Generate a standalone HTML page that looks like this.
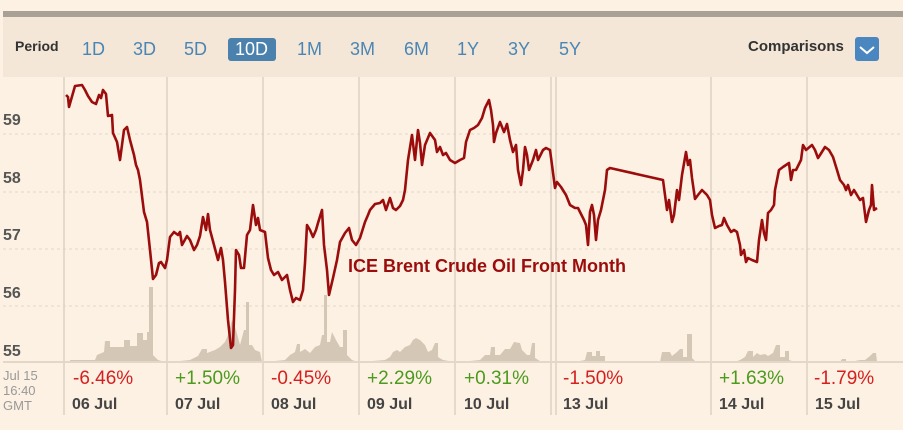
<!DOCTYPE html>
<html><head><meta charset="utf-8"><style>
body{margin:0;width:903px;height:430px;background:#fdf1e3;overflow:hidden;font-family:"Liberation Sans",sans-serif;position:relative}
.t{position:absolute;white-space:nowrap}
.p{font-size:19px;top:368px}
.d{font-size:16px;font-weight:bold;color:#444;top:396px}
.y{font-size:16px;font-weight:bold;color:#555;left:3px}
</style></head><body>
<div style="position:absolute;left:3px;top:11px;width:900px;height:6px;background:#a9a196"></div>
<div style="position:absolute;left:3px;top:17px;width:900px;height:60px;background:#f4e7d7"></div>
<div class="t" style="left:15px;top:38px;font-size:14px;font-weight:bold;color:#333">Period</div>
<div style="position:absolute;left:228px;top:38px;width:48px;height:23px;background:#4a81ad;border-radius:3px"></div>
<div class="t" style="left:82px;top:39px;font-size:18px;color:#4a86b5">1D</div>
<div class="t" style="left:133px;top:39px;font-size:18px;color:#4a86b5">3D</div>
<div class="t" style="left:184px;top:39px;font-size:18px;color:#4a86b5">5D</div>
<div class="t" style="left:235px;top:39px;font-size:18px;color:#fff">10D</div>
<div class="t" style="left:297px;top:39px;font-size:18px;color:#4a86b5">1M</div>
<div class="t" style="left:350px;top:39px;font-size:18px;color:#4a86b5">3M</div>
<div class="t" style="left:404px;top:39px;font-size:18px;color:#4a86b5">6M</div>
<div class="t" style="left:457px;top:39px;font-size:18px;color:#4a86b5">1Y</div>
<div class="t" style="left:508px;top:39px;font-size:18px;color:#4a86b5">3Y</div>
<div class="t" style="left:559px;top:39px;font-size:18px;color:#4a86b5">5Y</div>
<div class="t" style="left:748px;top:38px;font-size:15px;font-weight:bold;color:#333">Comparisons</div>
<div style="position:absolute;left:855px;top:37px;width:24px;height:24px;background:#4a86c0;border-radius:3px"></div>
<svg style="position:absolute;left:0;top:0" width="903" height="430">
<polyline points="860,47 867,53 874,47" fill="none" stroke="#fff" stroke-width="2"/>
<g stroke="#e2d6c8" stroke-dasharray="3,3" stroke-width="1">
<line x1="3" y1="134" x2="903" y2="134"/><line x1="3" y1="192" x2="903" y2="192"/><line x1="3" y1="249" x2="903" y2="249"/><line x1="3" y1="306" x2="903" y2="306"/>
</g>
<g stroke="#ddd1c3" stroke-width="1.5">
<line x1="64" y1="77" x2="64" y2="415"/><line x1="167" y1="77" x2="167" y2="415"/><line x1="263" y1="77" x2="263" y2="415"/><line x1="359" y1="77" x2="359" y2="415"/><line x1="455" y1="77" x2="455" y2="415"/><line x1="551" y1="77" x2="551" y2="415"/><line x1="556" y1="77" x2="556" y2="415"/><line x1="711" y1="77" x2="711" y2="415"/><line x1="807" y1="77" x2="807" y2="415"/>
</g>
<g fill="#d5c7b5">
<polygon points="70,362 70,360 95,360 97,355 104,352 105,341 110,341 110,347 124,347 124,340 130,340 130,346 137,346 137,333 143,333 143,340 147,340 147,332 149,332 149,287 153,287 153,355 158,360 165,362"/>
<polygon points="170,362 190,360 198,356 202,349 207,349 207,353 215,350 220,347 225,342 228,335 232,320 236,330 240,345 244,330 246,330 246,302 249,302 249,345 252,345 255,350 260,352 262,362"/>
<polygon points="265,362 285,360 290,355 295,352 297,344 300,344 300,352 305,349 310,353 315,347 320,345 322,335 324,335 324,295 327,295 327,342 330,342 332,332 336,340 340,347 343,347 343,330 347,330 347,355 352,360 358,362"/>
<polygon points="360,362 385,360 390,357 393,352 397,350 400,352 405,347 410,345 413,340 416,338 420,340 425,345 428,352 432,350 435,343 438,343 438,357 443,360 455,362"/>
<polygon points="460,362 480,360 485,355 490,355 491,347 495,347 495,355 500,355 505,349 510,349 514,342 520,343 522,350 527,355 530,355 532,343 535,343 535,358 540,361 551,362"/>
<polygon points="575,362 585,360 587,352 592,352 592,356 596,356 596,351 600,351 600,356 605,356 605,362"/>
<polygon points="660,362 662,352 670,352 672,356 677,352 680,349 683,349 683,357 687,357 687,334 692,334 692,358 695,361 705,362"/>
<polygon points="735,362 740,360 745,357 748,351 753,351 753,357 757,353 760,355 765,354 768,356 773,353 776,345 780,345 780,357 785,357 785,351 789,351 789,360 795,362"/>
<polygon points="840,362 842,359 846,359 846,361 855,361 860,360 865,360 870,356 873,353 876,353 877,362"/>
</g>
<line x1="3" y1="362" x2="903" y2="362" stroke="#e3d7c9" stroke-width="2"/>
<polyline fill="none" stroke="#9b0d0d" stroke-width="2.6" stroke-linejoin="round" points="66,95 68,97 69,107 71,100 75,86 82,85 85,90 88,96 92,102 96,104 99,95 101,98 103,90 106,94 108,116 112,115 113,133 117,142 120,160 124,130 127,127 130,140 134,155 136,165 138,170 140,180 144,212 147,222 150,250 153,279 156,275 159,263 161,262 165,268 167,260 170,237 174,232 178,235 180,232 182,245 187,236 190,240 194,250 197,245 200,236 203,217 206,230 208,214 210,230 214,245 218,260 221,248 223,260 225,282 228,320 231,348 233,345 235,290 236,250 239,255 241,268 244,268 247,235 250,230 253,205 256,225 258,218 260,230 265,232 268,258 271,270 274,275 278,272 282,280 287,275 290,290 293,302 296,298 300,300 303,290 305,263 307,225 310,230 313,237 316,230 318,223 322,210 324,245 327,270 329,295 333,278 337,260 340,242 345,233 349,228 352,240 356,245 360,238 365,222 368,215 370,210 375,204 380,203 383,200 386,210 390,198 393,208 396,210 400,206 403,200 405,190 408,160 412,135 415,160 418,130 420,143 422,165 425,145 430,133 435,140 437,152 440,147 443,155 446,153 450,160 455,163 460,160 464,158 466,142 470,130 474,128 478,125 482,118 485,108 489,100 491,110 493,125 494,142 496,133 500,122 504,132 507,124 510,140 513,152 516,145 518,170 521,185 523,170 525,147 527,155 529,170 533,160 536,150 538,160 543,150 546,148 550,150 552,165 555,188 557,182 561,187 566,195 570,205 575,208 578,208 584,220 586,225 588,245 590,212 592,205 594,215 596,240 598,220 601,210 605,190 607,170 610,168 663,180 665,195 667,210 669,200 672,222 674,215 677,190 679,200 682,175 686,152 688,165 690,160 692,178 695,199 698,195 702,190 707,195 710,200 712,215 715,228 719,226 722,225 724,218 727,225 731,232 734,230 737,232 740,245 741,255 744,250 746,262 748,258 752,260 757,262 759,240 762,220 764,233 766,240 768,213 771,210 774,205 775,190 779,170 783,167 789,163 791,180 793,170 796,170 801,160 803,145 806,150 812,145 815,150 818,158 820,155 825,147 829,150 833,157 837,170 840,180 844,185 846,190 848,185 851,195 854,190 857,195 860,200 863,198 866,222 869,210 871,205 872,185 874,210 877,208"/>
</svg>
<div class="t y" style="top:112px">59</div>
<div class="t y" style="top:170px">58</div>
<div class="t y" style="top:227px">57</div>
<div class="t y" style="top:285px">56</div>
<div class="t y" style="top:343px">55</div>
<div class="t" style="left:348px;top:256px;font-size:18px;font-weight:bold;color:#9b0d0d">ICE Brent Crude Oil Front Month</div>
<div class="t" style="left:3px;top:368px;font-size:13px;line-height:15px;color:#999">Jul 15<br>16:40<br>GMT</div>
<div class="t p" style="left:73px;color:#d52020">-6.46%</div>
<div class="t p" style="left:175px;color:#4c9a1f">+1.50%</div>
<div class="t p" style="left:271px;color:#d52020">-0.45%</div>
<div class="t p" style="left:367px;color:#4c9a1f">+2.29%</div>
<div class="t p" style="left:464px;color:#4c9a1f">+0.31%</div>
<div class="t p" style="left:563px;color:#d52020">-1.50%</div>
<div class="t p" style="left:719px;color:#4c9a1f">+1.63%</div>
<div class="t p" style="left:814px;color:#d52020">-1.79%</div>
<div class="t d" style="left:72px">06 Jul</div>
<div class="t d" style="left:175px">07 Jul</div>
<div class="t d" style="left:271px">08 Jul</div>
<div class="t d" style="left:367px">09 Jul</div>
<div class="t d" style="left:464px">10 Jul</div>
<div class="t d" style="left:563px">13 Jul</div>
<div class="t d" style="left:719px">14 Jul</div>
<div class="t d" style="left:815px">15 Jul</div>
</body></html>
